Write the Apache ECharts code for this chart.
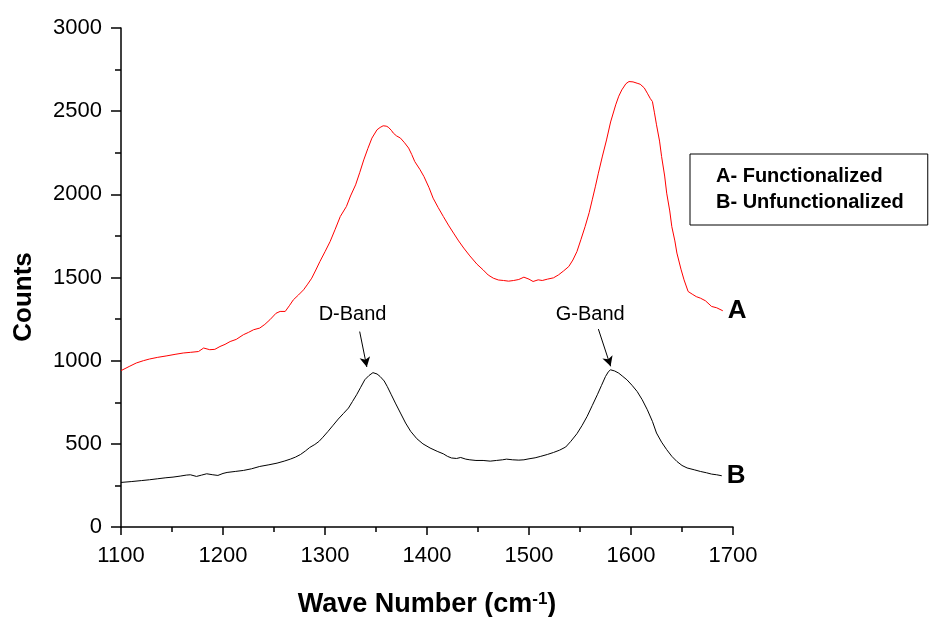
<!DOCTYPE html>
<html>
<head>
<meta charset="utf-8">
<script src="https://cdn.jsdelivr.net/npm/echarts@6/dist/echarts.min.js"></script>
<style>html,body{margin:0;padding:0;background:#fff;}#chart{width:929px;height:617px;}</style>
</head>
<body>
<div id="chart"></div>
<script>
// Wave numbers and counts, curve A (functionalized, red)
var waveA = [1100,1108,1115,1122,1128,1136,1145,1153,1161,1168,1176,1181,1187,1192,1197,1202,1207,1213,1220,1225,1230,1236,1241,1246,1252,1256,1261,1265,1269,1274,1279,1283,1287,1291,1295,1300,1305,1310,1315,1321,1325,1330,1334,1338,1342,1346,1351,1354,1357,1360,1362,1365,1367,1370,1374,1378,1382,1385,1388,1393,1397,1402,1406,1411,1416,1421,1426,1431,1436,1442,1449,1455,1460,1465,1470,1475,1480,1485,1490,1495,1500,1504,1509,1513,1518,1524,1529,1534,1539,1543,1547,1551,1555,1559,1562,1565,1568,1572,1576,1580,1585,1588,1591,1595,1598,1602,1606,1609,1613,1616,1619,1621,1623,1625,1628,1630,1633,1635,1638,1640,1643,1645,1649,1652,1656,1660,1664,1668,1673,1679,1684,1690];
var countsA = [940,965,986,1000,1010,1020,1029,1038,1046,1050,1055,1076,1066,1068,1085,1098,1115,1128,1156,1170,1186,1196,1218,1246,1285,1296,1296,1330,1366,1395,1426,1460,1496,1545,1596,1655,1716,1790,1867,1927,1990,2057,2130,2207,2275,2338,2388,2402,2412,2410,2404,2385,2368,2352,2338,2310,2278,2240,2197,2150,2107,2040,1977,1920,1867,1815,1767,1720,1677,1630,1580,1546,1515,1496,1485,1482,1478,1482,1488,1502,1490,1476,1486,1482,1490,1498,1516,1540,1566,1605,1656,1730,1806,1890,1967,2045,2127,2230,2327,2435,2538,2590,2628,2665,2678,2676,2668,2662,2640,2608,2575,2558,2490,2418,2320,2227,2110,2007,1900,1806,1720,1647,1550,1486,1416,1400,1385,1376,1360,1326,1318,1300];

// Curve B (unfunctionalized, black)
var waveB = [1100,1110,1120,1128,1136,1144,1151,1158,1164,1168,1174,1179,1184,1190,1195,1200,1204,1212,1220,1228,1236,1245,1253,1260,1266,1271,1276,1281,1285,1290,1294,1298,1303,1308,1313,1318,1323,1327,1331,1335,1339,1343,1347,1351,1354,1358,1361,1365,1369,1374,1379,1384,1390,1396,1403,1410,1416,1420,1424,1429,1433,1438,1442,1448,1455,1462,1468,1474,1478,1484,1490,1495,1500,1506,1511,1518,1524,1530,1536,1541,1547,1552,1557,1562,1567,1571,1575,1578,1580,1584,1588,1592,1596,1601,1606,1611,1616,1621,1625,1630,1635,1640,1645,1650,1655,1662,1668,1674,1679,1684,1689];
var countsB = [268,273,279,284,290,296,300,306,312,314,304,312,320,314,310,322,328,334,340,350,364,374,384,396,408,420,436,458,478,496,514,540,575,612,649,682,715,755,795,840,885,910,928,920,905,878,845,795,745,685,625,575,531,500,475,455,440,425,415,412,418,408,404,400,400,396,400,404,408,404,402,404,410,416,424,436,448,462,481,515,561,610,665,730,795,850,905,935,945,938,925,905,885,852,815,765,705,635,565,510,465,425,394,370,355,344,334,326,318,314,308];

var seriesNames = ['A- Functionalized', 'B- Unfunctionalized'];
var curveTags = ['A', 'B'];
var bandNames = ['D-Band', 'G-Band'];
var xTicks = {min: 1100, max: 1700, step: 100};
var yTicks = {min: 0, max: 3000, step: 500};

function pairs(xs, ys) { return xs.map(function (x, i) { return [x, ys[i]]; }); }
function plain(v) { return String(v); }

var FONT = "'Liberation Sans', Arial, sans-serif";
var chart = echarts.init(document.getElementById('chart'), null, {renderer: 'canvas'});

var tagLabel = function (tag) {
  return {show: true, formatter: tag, fontSize: 26, fontWeight: 'bold', color: '#000', fontFamily: FONT, distance: 5};
};

chart.setOption({
  animation: false,
  backgroundColor: '#fff',
  grid: {left: 121, right: 196, top: 28, bottom: 90, containLabel: false, outerBoundsMode: 'none'},
  legend: {
    data: seriesNames,
    orient: 'vertical',
    left: 690, top: 154,
    padding: [11, 24, 12, 20],
    itemGap: 4,
    itemWidth: 0, itemHeight: 0,
    borderColor: '#000', borderWidth: 1,
    selectedMode: false,
    textStyle: {fontSize: 20, fontWeight: 'bold', color: '#000', fontFamily: FONT, lineHeight: 22}
  },
  xAxis: {
    type: 'value', min: xTicks.min, max: xTicks.max, interval: xTicks.step,
    name: 'Wave Number (cm{sup|-1})', nameLocation: 'middle', nameGap: 64,
    nameTextStyle: {fontSize: 27, fontWeight: 'bold', color: '#000', fontFamily: FONT,
      rich: {sup: {fontSize: 17, fontWeight: 'bold', color: '#000', fontFamily: FONT, verticalAlign: 'top', padding: [0, 0, 10, 0]}}},
    axisLine: {show: true, onZero: false, lineStyle: {color: '#000', width: 1.5}},
    axisTick: {show: true, inside: false, length: 8, lineStyle: {color: '#000', width: 1.5}},
    minorTick: {show: true, splitNumber: 2, length: 5, lineStyle: {color: '#000', width: 1.5}},
    axisLabel: {fontSize: 22, color: '#000', fontFamily: FONT, margin: 18, formatter: plain},
    splitLine: {show: false}
  },
  yAxis: {
    type: 'value', min: yTicks.min, max: yTicks.max, interval: yTicks.step,
    axisLine: {show: true, onZero: false, lineStyle: {color: '#000', width: 1.5}},
    axisTick: {show: true, inside: false, length: 10, lineStyle: {color: '#000', width: 1.5}},
    minorTick: {show: true, splitNumber: 2, length: 6, lineStyle: {color: '#000', width: 1.5}},
    axisLabel: {fontSize: 22, color: '#000', fontFamily: FONT, margin: 19, formatter: plain},
    splitLine: {show: false}
  },
  graphic: [{
    type: 'text', x: 24, y: 297, rotation: Math.PI / 2,
    style: {text: 'Counts', font: 'bold 26px ' + FONT, fill: '#000', textAlign: 'center', textVerticalAlign: 'middle'}
  }],
  series: [{
    name: seriesNames[0], type: 'line', showSymbol: false, symbol: 'none',
    data: pairs(waveA, countsA),
    lineStyle: {color: '#ff0000', width: 1}, itemStyle: {color: '#ff0000'},
    endLabel: tagLabel(curveTags[0])
  }, {
    name: seriesNames[1], type: 'line', showSymbol: false, symbol: 'none',
    data: pairs(waveB, countsB),
    lineStyle: {color: '#000', width: 1}, itemStyle: {color: '#000'},
    endLabel: tagLabel(curveTags[1]),
    markLine: {
      silent: true, symbol: ['none', 'arrow'], symbolSize: [8, 10],
      lineStyle: {color: '#000', width: 1, type: 'solid'},
      label: {show: false},
      data: [
        [{coord: [1334, 1175]}, {coord: [1341, 962]}],
        [{coord: [1568, 1190]}, {coord: [1580, 966]}]
      ]
    },
    markPoint: {
      silent: true, symbol: 'circle', symbolSize: 0,
      label: {show: true, position: 'inside', fontSize: 20, color: '#000', fontFamily: FONT},
      data: [
        {coord: [1327, 1275], value: bandNames[0], label: {formatter: bandNames[0]}},
        {coord: [1560, 1275], value: bandNames[1], label: {formatter: bandNames[1]}}
      ]
    }
  }]
});
</script>
</body>
</html>
